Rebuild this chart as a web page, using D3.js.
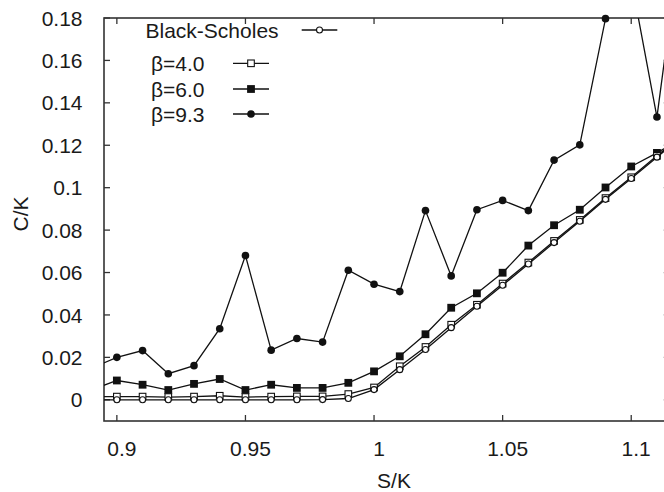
<!DOCTYPE html>
<html>
<head>
<meta charset="utf-8">
<script src="https://cdn.jsdelivr.net/npm/d3@7"></script>
<style>
  body { margin: 0; background: #fff; }
  svg { display: block; }
  text { font-family: "Liberation Sans", Arial, sans-serif; fill: #1a1a1a; }
</style>
</head>
<body>
<svg id="chart" width="664" height="492"></svg>
<script>
// S/K values (0.89 and 1.12 fall outside the visible frame, lines run to the edge)
var sk = [0.89, 0.90, 0.91, 0.92, 0.93, 0.94, 0.95, 0.96, 0.97, 0.98, 0.99, 1.00,
          1.01, 1.02, 1.03, 1.04, 1.05, 1.06, 1.07, 1.08, 1.09, 1.10, 1.11, 1.12];

// C/K
var blackScholes = [0.0000, 0.0000, 0.0000, 0.0000, 0.0000, 0.0000, 0.0000, 0.0000, 0.0000, 0.0001, 0.0006, 0.0048,
                    0.0142, 0.0237, 0.0340, 0.0441, 0.0540, 0.0640, 0.0741, 0.0842, 0.0945, 0.1043, 0.1144, 0.1244];
var beta40 = [0.0014, 0.0015, 0.0015, 0.0013, 0.0015, 0.0019, 0.0013, 0.0015, 0.0016, 0.0016, 0.0027, 0.0058,
              0.0158, 0.0249, 0.0354, 0.0448, 0.0548, 0.0647, 0.0749, 0.0848, 0.0951, 0.1049, 0.1150, 0.1250];
var beta60 = [0.0046, 0.0091, 0.0071, 0.0046, 0.0075, 0.0098, 0.0046, 0.0071, 0.0056, 0.0056, 0.0080, 0.0134,
              0.0205, 0.0309, 0.0434, 0.0502, 0.0599, 0.0727, 0.0823, 0.0896, 0.1001, 0.1100, 0.1164, 0.1235];
var beta93 = [0.0148, 0.0200, 0.0232, 0.0123, 0.0161, 0.0335, 0.0680, 0.0234, 0.0289, 0.0272, 0.0611, 0.0545,
              0.0510, 0.0892, 0.0584, 0.0896, 0.0940, 0.0892, 0.1130, 0.1202, 0.1797, 0.1980, 0.1333, 0.2250];

var xTicks = [0.9, 0.95, 1, 1.05, 1.1];
var yTicks = [0, 0.02, 0.04, 0.06, 0.08, 0.1, 0.12, 0.14, 0.16, 0.18];

var series = [
  {name: "Black-Scholes", values: blackScholes, marker: "circleOpen"},
  {name: "\u03b2=4.0", values: beta40, marker: "squareOpen"},
  {name: "\u03b2=6.0", values: beta60, marker: "squareFilled"},
  {name: "\u03b2=9.3", values: beta93, marker: "circleFilled"}
];

var svg = d3.select("#chart");

var frame = {left: 104, right: 669.8, top: 18, bottom: 421};

var x = d3.scaleLinear().domain([0.895, 1.115]).range([frame.left, frame.right]);
var y = d3.scaleLinear().domain([-0.01, 0.18]).range([frame.bottom, frame.top]);

svg.append("defs").append("clipPath")
    .attr("id", "plotclip")
    .append("rect")
    .attr("x", frame.left)
    .attr("y", frame.top)
    .attr("width", frame.right - frame.left)
    .attr("height", frame.bottom - frame.top);

// axes: ticks point inward, mirrored on top and right
var tickLen = 6;
var axisG = svg.append("g").attr("class", "axes");

axisG.selectAll("line.xb").data(xTicks).enter().append("line")
    .attr("x1", function(d){ return x(d); }).attr("x2", function(d){ return x(d); })
    .attr("y1", frame.bottom).attr("y2", frame.bottom - tickLen)
    .style("stroke", "#333").style("stroke-width", 1.3);
axisG.selectAll("line.xt").data(xTicks).enter().append("line")
    .attr("x1", function(d){ return x(d); }).attr("x2", function(d){ return x(d); })
    .attr("y1", frame.top).attr("y2", frame.top + tickLen)
    .style("stroke", "#333").style("stroke-width", 1.3);
axisG.selectAll("line.yl").data(yTicks).enter().append("line")
    .attr("x1", frame.left).attr("x2", frame.left + tickLen)
    .attr("y1", function(d){ return y(d); }).attr("y2", function(d){ return y(d); })
    .style("stroke", "#333").style("stroke-width", 1.3);
axisG.selectAll("line.yr").data(yTicks).enter().append("line")
    .attr("x1", frame.right).attr("x2", frame.right - tickLen)
    .attr("y1", function(d){ return y(d); }).attr("y2", function(d){ return y(d); })
    .style("stroke", "#333").style("stroke-width", 1.3);

axisG.append("rect")
    .attr("x", frame.left).attr("y", frame.top)
    .attr("width", frame.right - frame.left).attr("height", frame.bottom - frame.top)
    .style("fill", "none").style("stroke", "#333").style("stroke-width", 1.6);

// tick labels
axisG.selectAll("text.xl").data(xTicks).enter().append("text")
    .attr("x", function(d){ return x(d) + 5; })
    .attr("y", 455.5)
    .style("font-size", "21px")
    .style("text-anchor", "middle")
    .text(function(d){ return d3.format("")(d); });

axisG.selectAll("text.yl").data(yTicks).enter().append("text")
    .attr("x", 82.5)
    .attr("y", function(d){ return y(d); })
    .attr("dy", "0.36em")
    .style("font-size", "21px")
    .style("text-anchor", "end")
    .text(function(d){ return d3.format("")(d); });

// axis titles
svg.append("text")
    .attr("x", 394).attr("y", 487.5)
    .style("font-size", "21px")
    .style("text-anchor", "middle")
    .text("S/K");
svg.append("text")
    .attr("transform", "translate(28.3,214) rotate(-90)")
    .style("font-size", "21px")
    .style("text-anchor", "middle")
    .text("C/K");

// markers
function drawMarker(g, kind, cx, cy) {
  if (kind === "circleOpen") {
    g.append("circle").attr("cx", cx).attr("cy", cy).attr("r", 3)
        .style("fill", "#fff").style("stroke", "#111").style("stroke-width", 1.1);
  } else if (kind === "circleFilled") {
    g.append("circle").attr("cx", cx).attr("cy", cy).attr("r", 3.8)
        .style("fill", "#111");
  } else if (kind === "squareOpen") {
    g.append("rect").attr("x", cx - 3.3).attr("y", cy - 3.3).attr("width", 6.6).attr("height", 6.6)
        .style("fill", "#fff").style("stroke", "#111").style("stroke-width", 1.1);
  } else {
    g.append("rect").attr("x", cx - 3.9).attr("y", cy - 3.9).attr("width", 7.8).attr("height", 7.8)
        .style("fill", "#111");
  }
}

var line = d3.line()
    .x(function(d){ return x(d[0]); })
    .y(function(d){ return y(d[1]); });

var xd = x.domain(), yd = y.domain();

// draw in reverse so Black-Scholes ends on top
series.slice().reverse().forEach(function(s){
  var pts = sk.map(function(v, i){ return [v, s.values[i]]; });
  var g = svg.append("g").attr("class", "series");
  g.append("path")
      .datum(pts)
      .attr("clip-path", "url(#plotclip)")
      .attr("d", line)
      .style("fill", "none")
      .style("stroke", "#111")
      .style("stroke-width", 1.3);
  pts.filter(function(p){
    return p[0] >= xd[0] && p[0] <= xd[1] && p[1] >= yd[0] && p[1] <= yd[1];
  }).forEach(function(p){
    drawMarker(g, s.marker, x(p[0]), y(p[1]));
  });
});

// legend
var legend = [
  {text: "Black-Scholes", tx: 145.5, x1: 301.7, x2: 337.3, ly: 30},
  {text: "\u03b2=4.0", tx: 151, x1: 233, x2: 269, ly: 63.3},
  {text: "\u03b2=6.0", tx: 151, x1: 233, x2: 269, ly: 89},
  {text: "\u03b2=9.3", tx: 151, x1: 233, x2: 269, ly: 114}
];
var lg = svg.append("g").attr("class", "legend");
legend.forEach(function(l, i){
  lg.append("text")
      .attr("x", l.tx).attr("y", l.ly + 7.5)
      .style("font-size", "21px")
      .text(l.text);
  lg.append("line")
      .attr("x1", l.x1).attr("x2", l.x2)
      .attr("y1", l.ly).attr("y2", l.ly)
      .style("stroke", "#111").style("stroke-width", 1.3);
  drawMarker(lg, series[i].marker, (l.x1 + l.x2) / 2, l.ly);
});
</script>
</body>
</html>
